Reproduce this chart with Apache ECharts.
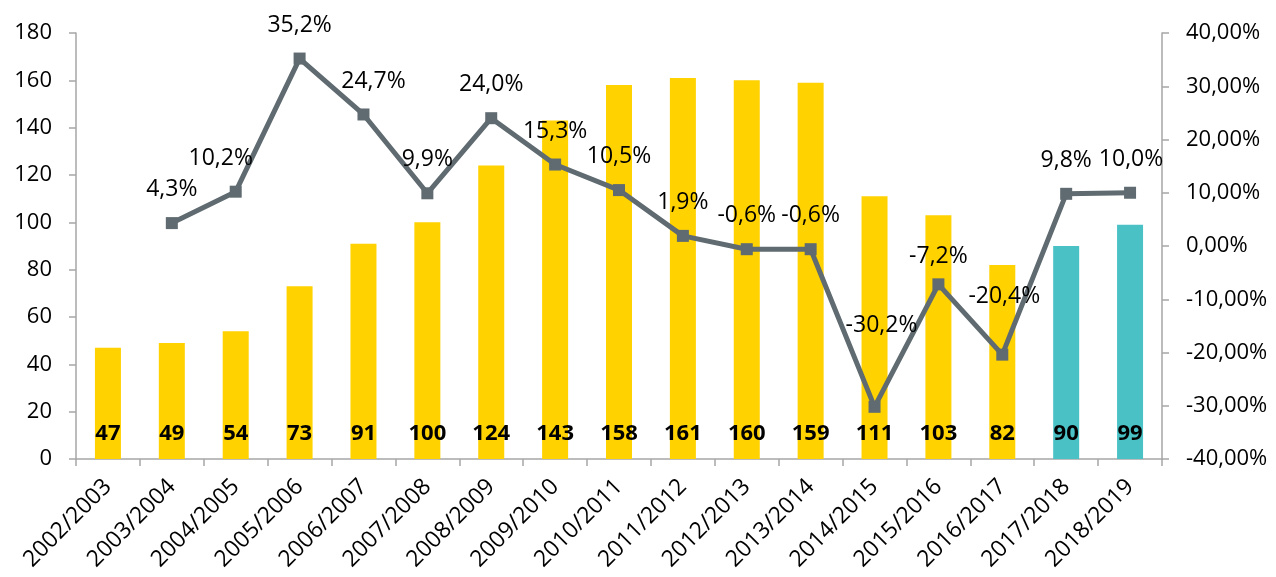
<!DOCTYPE html>
<html lang="en">
<head>
    <meta charset="UTF-8">
    <title>Seasons chart</title>
    <script src="https://cdn.jsdelivr.net/npm/echarts/dist/echarts.min.js"></script>
    <style>
        body { margin: 0; background: #fff; }
        #main { width: 1276px; height: 577px; }
    </style>
</head>
<body>
    <div id="main"></div>
    <script>
        // seasons on the x axis
        const seasons = ['2002/2003', '2003/2004', '2004/2005', '2005/2006', '2006/2007', '2007/2008',
            '2008/2009', '2009/2010', '2010/2011', '2011/2012', '2012/2013', '2013/2014',
            '2014/2015', '2015/2016', '2016/2017', '2017/2018', '2018/2019'];
        // bar values (left axis)
        const counts = [47, 49, 54, 73, 91, 100, 124, 143, 158, 161, 160, 159, 111, 103, 82, 90, 99];
        // yearly change in % (right axis), first season has none
        const changes = [null, 4.3, 10.2, 35.2, 24.7, 9.9, 24.0, 15.3, 10.5, 1.9, -0.6, -0.6, -30.2, -7.2, -20.4, 9.8, 10.0];
        // seasons drawn in the second colour
        const tealSeasons = ['2017/2018', '2018/2019'];

        // label nudges for the line labels [dx, dy], same order as seasons
        const labelNudge = [null, [0, 0], [-15, 0], [0, 0], [10, 0], [0, 0], [0, 0], [0, 0], [0, 0], [0, 0],
            [0, 0], [0, 0], [7, -48], [0, 6], [2, -25], [0, 0], [1, 0]];

        const font = '"Open Sans", "Liberation Sans", sans-serif';
        const axisGray = '#a6a6a6';

        var chart = echarts.init(document.getElementById('main'));

        const lineData = changes.map(function (v, i) {
            if (v === null) return null;
            const n = labelNudge[i] || [0, 0];
            return { value: v, label: { offset: n } };
        });

        var option = {
            animation: false,
            backgroundColor: '#fff',
            grid: { left: 76, right: 114, top: 33, bottom: 118 },
            xAxis: {
                type: 'category',
                data: seasons,
                axisLine: { lineStyle: { color: axisGray, width: 1.5 } },
                axisTick: { show: true, alignWithLabel: false, length: 7, lineStyle: { color: axisGray, width: 1.5 } },
                axisLabel: {
                    rotate: 45, color: '#000', fontFamily: font, fontSize: 23, margin: 24, interval: 0
                }
            },
            yAxis: [
                {
                    type: 'value', min: 0, max: 180, interval: 20,
                    splitLine: { show: false },
                    axisLine: { show: true, lineStyle: { color: axisGray, width: 1.5 } },
                    axisTick: { show: true, length: 7, lineStyle: { color: axisGray, width: 1.5 } },
                    axisLabel: { color: '#000', fontFamily: font, fontSize: 22, margin: 24 }
                },
                {
                    type: 'value', min: -40, max: 40, interval: 10,
                    splitLine: { show: false },
                    axisLine: { show: true, lineStyle: { color: axisGray, width: 1.5 } },
                    axisTick: { show: true, length: 7, lineStyle: { color: axisGray, width: 1.5 } },
                    axisLabel: {
                        color: '#000', fontFamily: font, fontSize: 22, margin: 24,
                        formatter: function (v) { return v.toFixed(2).replace('.', ',') + '%'; }
                    }
                }
            ],
            series: [
                {
                    type: 'bar',
                    data: counts,
                    barWidth: 26,
                    itemStyle: {
                        color: function (p) {
                            return tealSeasons.indexOf(seasons[p.dataIndex]) >= 0 ? '#4ac1c5' : '#ffd200';
                        }
                    },
                    label: {
                        show: true, position: 'insideBottom', distance: 14,
                        color: '#000', fontFamily: font, fontSize: 22, fontWeight: 'bold'
                    },
                    z: 2
                },
                {
                    type: 'line',
                    yAxisIndex: 1,
                    data: lineData,
                    connectNulls: false,
                    symbol: 'rect',
                    symbolSize: 12,
                    lineStyle: { color: '#5f6b70', width: 5 },
                    itemStyle: { color: '#5f6b70' },
                    label: {
                        show: true, position: 'top', distance: 16,
                        color: '#000', fontFamily: font, fontSize: 23,
                        formatter: function (p) { return p.value.toFixed(1).replace('.', ',') + '%'; }
                    },
                    z: 3
                }
            ]
        };

        chart.setOption(option);
    </script>
</body>
</html>
